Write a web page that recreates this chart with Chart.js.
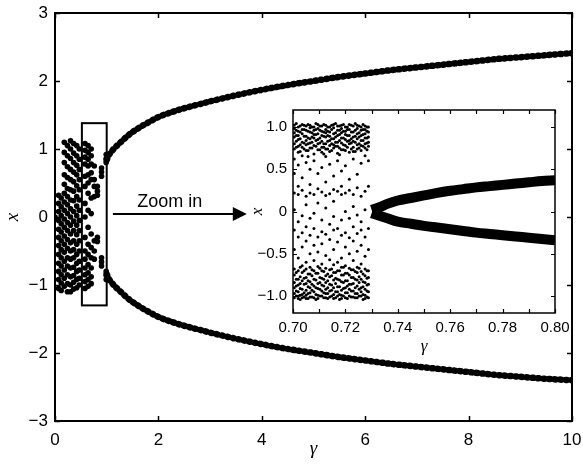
<!DOCTYPE html>
<html lang="en">
<head>
<meta charset="utf-8"/>
<title>Bifurcation diagram</title>
<script src="https://cdn.jsdelivr.net/npm/chart.js"></script>
<style>
  body { margin: 0; background: #fff; }
  #wrap { position: relative; width: 583px; height: 466px; }
  #inset { position: absolute; left: 248px; top: 100px; }
</style>
</head>
<body>
<div id="wrap">
<canvas id="main" width="583" height="466"></canvas>
<canvas id="inset" width="340" height="260"></canvas>
</div>
<script>
  // ---- main panel data ----
  const branchGamma = [1.0, 1.05, 1.1, 1.2, 1.3, 1.4, 1.5, 1.6, 1.8, 2.0, 2.25, 2.5, 2.75, 3.0, 3.5, 4.0, 4.5, 5.0, 5.5, 6.0, 6.5, 7.0, 7.5, 8.0, 8.5, 9.0, 9.5, 10.0];
  const branchUpper = [0.84, 0.92, 0.97, 1.05, 1.12, 1.19, 1.25, 1.30, 1.39, 1.47, 1.54, 1.60, 1.65, 1.70, 1.79, 1.87, 1.94, 2.00, 2.06, 2.11, 2.16, 2.20, 2.24, 2.28, 2.32, 2.35, 2.38, 2.41];
  const branchLower = [-0.84, -0.92, -0.97, -1.05, -1.12, -1.19, -1.25, -1.30, -1.39, -1.47, -1.54, -1.60, -1.65, -1.70, -1.79, -1.87, -1.94, -2.00, -2.06, -2.11, -2.16, -2.20, -2.24, -2.28, -2.32, -2.35, -2.38, -2.40];

  const chaosGamma = [0.0, 0.07, 0.12, 0.18, 0.24, 0.30, 0.36, 0.42, 0.47, 0.58, 0.64, 0.70, 0.76, 0.82, 0.90, 0.99];
  const chaosX = [
    [0.0],
    [0.32, 0.2, 0.08, -0.05, -0.18, -0.3, -0.42, -0.55, -0.68, -0.8, -0.92, -1.05],
    [0.28, 0.15, 0.02, -0.1, -0.22, -0.35, -0.48, -0.6, -0.72, -0.85, -0.97, -1.08],
    [1.1, 0.95, 0.8, 0.62, 0.48, 0.35, 0.22, 0.1, -0.03, -0.15, -0.28, -0.4, -0.52, -0.65, -0.78, -0.9, -1.02],
    [1.05, 0.9, 0.74, 0.58, 0.42, 0.3, 0.18, 0.05, -0.08, -0.2, -0.33, -0.46, -0.6, -0.72, -0.85, -0.98, -1.1],
    [1.12, 1.0, 0.86, 0.7, 0.55, 0.4, 0.25, 0.12, 0.0, -0.12, -0.25, -0.38, -0.5, -0.62, -0.75, -0.88, -1.0, -1.1],
    [1.08, 0.94, 0.8, 0.66, 0.52, 0.38, 0.24, 0.08, -0.06, -0.2, -0.35, -0.48, -0.6, -0.74, -0.86, -0.96, -1.06],
    [1.05, 0.9, 0.76, 0.62, 0.46, 0.3, 0.16, 0.02, -0.12, -0.26, -0.4, -0.55, -0.68, -0.8, -0.92, -1.04],
    [1.0, 0.85, 0.7, 0.55, 0.4, 0.25, 0.1, -0.05, -0.2, -0.35, -0.5, -0.65, -0.78, -0.9, -1.0],
    [1.08, 0.98, 0.88, 0.78, 0.6, 0.45, 0.2, 0.0, -0.3, -0.5, -0.62, -0.75, -0.85, -0.95, -1.05],
    [1.05, 0.95, 0.85, 0.75, 0.62, 0.5, 0.35, 0.1, -0.15, -0.4, -0.55, -0.7, -0.82, -0.92, -1.02],
    [1.0, 0.9, 0.78, 0.65, 0.55, 0.28, 0.05, -0.25, -0.45, -0.6, -0.75, -0.88, -0.98],
    [0.75, 0.55, 0.45, 0.3, -0.35, -0.5, -0.62],
    [0.45, 0.38, 0.32, -0.3, -0.36],
    [0.72, 0.66, 0.6, -0.6, -0.66, -0.72],
    [0.92, 0.86, 0.8, -0.8, -0.86, -0.92]
  ];

  const xTicksMain = [0, 2, 4, 6, 8, 10];
  const yTicksMain = [-3, -2, -1, 0, 1, 2, 3];

  // zoom box and arrow, in data units
  const zoomBox = { g0: 0.52, g1: 1.0, x0: -1.3, x1: 1.38 };
  const zoomArrow = { g0: 1.12, g1: 3.71, x: 0.045, label: 'Zoom in' };

  // ---- inset data ----
  const insetBranchGamma = [0.730, 0.733, 0.736, 0.740, 0.745, 0.750, 0.755, 0.760, 0.765, 0.770, 0.775, 0.780, 0.785, 0.790, 0.795, 0.800];
  const insetUpper = [0.02, 0.05, 0.09, 0.13, 0.16, 0.19, 0.22, 0.245, 0.265, 0.285, 0.30, 0.315, 0.33, 0.345, 0.36, 0.37];
  const insetLower = [-0.02, -0.05, -0.08, -0.12, -0.145, -0.17, -0.19, -0.21, -0.23, -0.25, -0.265, -0.28, -0.295, -0.31, -0.325, -0.34];

  const noiseGamma = [0.7005, 0.7020, 0.7035, 0.7050, 0.7065, 0.7080, 0.7095, 0.7110, 0.7125, 0.7140, 0.7155, 0.7170, 0.7185, 0.7200, 0.7215, 0.7230, 0.7245, 0.7260, 0.7275, 0.7288];
  const noiseX = [
    [1.02, 0.98, 0.93, 0.88, 0.8, 0.74, 0.62, 0.45, 0.22, 0.02, -0.22, -0.45, -0.68, -0.75, -0.84, -0.9, -0.97, -1.02],
    [1.0, 0.95, 0.9, 0.85, 0.77, 0.7, 0.55, 0.3, 0.2, -0.12, -0.3, -0.55, -0.7, -0.8, -0.87, -0.95, -1.0, -1.03],
    [1.03, 0.97, 0.92, 0.82, 0.76, 0.66, 0.4, 0.25, -0.05, -0.25, -0.42, -0.64, -0.72, -0.82, -0.92, -0.98, -1.02],
    [1.01, 0.96, 0.89, 0.84, 0.79, 0.72, 0.58, 0.18, 0.08, -0.18, -0.35, -0.6, -0.68, -0.78, -0.85, -0.93, -0.99, -1.03],
    [1.02, 0.99, 0.94, 0.86, 0.81, 0.75, 0.5, 0.32, 0.22, -0.08, -0.28, -0.5, -0.66, -0.74, -0.83, -0.9, -0.96, -1.01],
    [1.0, 0.96, 0.91, 0.87, 0.78, 0.68, 0.6, 0.2, -0.02, -0.2, -0.4, -0.58, -0.7, -0.8, -0.88, -0.95, -1.02],
    [1.03, 0.98, 0.92, 0.85, 0.8, 0.73, 0.45, 0.27, 0.1, -0.3, -0.48, -0.65, -0.73, -0.85, -0.91, -0.99, -1.03],
    [1.01, 0.95, 0.9, 0.83, 0.76, 0.7, 0.52, 0.23, -0.1, -0.24, -0.38, -0.62, -0.7, -0.79, -0.87, -0.94, -1.0],
    [1.02, 0.97, 0.93, 0.88, 0.8, 0.74, 0.65, 0.35, 0.19, 0.04, -0.27, -0.52, -0.67, -0.76, -0.84, -0.92, -0.97, -1.02],
    [1.0, 0.94, 0.89, 0.84, 0.78, 0.71, 0.56, 0.21, -0.15, -0.33, -0.57, -0.69, -0.77, -0.86, -0.94, -1.01],
    [1.03, 0.99, 0.92, 0.86, 0.79, 0.75, 0.42, 0.26, 0.12, -0.06, -0.22, -0.45, -0.63, -0.72, -0.81, -0.9, -0.98, -1.03],
    [1.01, 0.96, 0.9, 0.82, 0.77, 0.69, 0.6, 0.24, -0.2, -0.36, -0.6, -0.7, -0.8, -0.89, -0.95, -1.0],
    [1.02, 0.98, 0.93, 0.87, 0.81, 0.73, 0.48, 0.3, 0.2, -0.1, -0.28, -0.55, -0.66, -0.75, -0.83, -0.93, -0.99, -1.03],
    [1.0, 0.95, 0.91, 0.85, 0.78, 0.72, 0.54, 0.22, 0.0, -0.25, -0.42, -0.64, -0.73, -0.82, -0.9, -0.96, -1.02],
    [1.03, 0.97, 0.9, 0.84, 0.8, 0.7, 0.38, 0.25, -0.08, -0.31, -0.5, -0.67, -0.75, -0.86, -0.92, -1.0],
    [1.01, 0.94, 0.88, 0.83, 0.76, 0.71, 0.62, 0.2, 0.06, -0.18, -0.35, -0.58, -0.69, -0.78, -0.85, -0.94, -1.01],
    [1.02, 0.98, 0.92, 0.86, 0.79, 0.74, 0.44, 0.28, -0.04, -0.26, -0.47, -0.66, -0.72, -0.81, -0.88, -0.97, -1.02],
    [1.0, 0.96, 0.9, 0.84, 0.78, 0.72, 0.57, 0.18, -0.12, -0.22, -0.4, -0.62, -0.71, -0.8, -0.9, -0.95, -1.0],
    [1.01, 0.97, 0.92, 0.87, 0.8, 0.75, 0.66, 0.24, 0.02, -0.3, -0.53, -0.68, -0.76, -0.84, -0.92, -0.99, -1.03],
    [1.0, 0.94, 0.88, 0.82, 0.77, 0.6, 0.3, -0.2, -0.45, -0.7, -0.78, -0.86, -0.95, -1.02]
  ];
  // extra samples that fill the two dense bands
  const bandGamma = [0.70125, 0.70275, 0.70425, 0.70575, 0.70725, 0.70875, 0.71025, 0.71175, 0.71325, 0.71475, 0.71625, 0.71775, 0.71925, 0.72075, 0.72225, 0.72375, 0.72525, 0.72675, 0.72825];
  const bandX = [
    [1.04, 0.96, 0.9, 0.83, 0.76, -0.72, -0.8, -0.88, -0.94, -1.0],
    [1.01, 0.94, 0.86, 0.79, 0.71, -0.66, -0.77, -0.85, -0.91, -0.99, -1.04],
    [1.02, 0.97, 0.89, 0.81, 0.74, -0.7, -0.79, -0.86, -0.96, -1.01],
    [1.03, 0.95, 0.87, 0.8, 0.72, 0.65, -0.74, -0.82, -0.89, -0.97, -1.03],
    [1.0, 0.93, 0.88, 0.82, 0.75, -0.69, -0.76, -0.86, -0.93, -1.01],
    [1.04, 0.97, 0.91, 0.84, 0.77, -0.73, -0.81, -0.9, -0.98, -1.04],
    [1.01, 0.96, 0.87, 0.81, 0.73, -0.67, -0.78, -0.84, -0.92, -1.0],
    [1.03, 0.94, 0.89, 0.8, 0.76, 0.68, -0.71, -0.8, -0.88, -0.96, -1.02],
    [1.0, 0.95, 0.9, 0.83, 0.74, -0.74, -0.82, -0.9, -0.97, -1.03],
    [1.02, 0.97, 0.86, 0.8, 0.72, -0.68, -0.76, -0.87, -0.93, -1.0],
    [1.04, 0.93, 0.88, 0.82, 0.77, -0.72, -0.79, -0.85, -0.95, -1.02],
    [1.01, 0.96, 0.91, 0.84, 0.75, 0.67, -0.7, -0.81, -0.89, -0.98, -1.04],
    [1.03, 0.95, 0.87, 0.79, 0.73, -0.66, -0.75, -0.84, -0.91, -1.0],
    [1.0, 0.97, 0.9, 0.83, 0.76, -0.73, -0.82, -0.88, -0.96, -1.03],
    [1.02, 0.94, 0.86, 0.81, 0.74, -0.69, -0.78, -0.86, -0.94, -1.01],
    [1.04, 0.96, 0.89, 0.82, 0.71, -0.71, -0.8, -0.9, -0.97, -1.02],
    [1.01, 0.93, 0.88, 0.8, 0.75, -0.67, -0.77, -0.84, -0.92, -1.0],
    [1.03, 0.97, 0.91, 0.84, 0.77, -0.74, -0.83, -0.89, -0.98, -1.04],
    [1.0, 0.95, 0.87, 0.81, 0.73, -0.7, -0.79, -0.87, -0.94, -1.01]
  ];

  const insetTickMarksX = [0.70, 0.71, 0.72, 0.73, 0.74, 0.75, 0.76, 0.77, 0.78, 0.79, 0.80];
  const insetTicksY = [-1, -0.5, 0, 0.5, 1];

  const sansFont = "'Liberation Sans', Arial, sans-serif";
  const serifFont = "'Liberation Serif', 'Times New Roman', serif";

  function columnsToPoints(gs, cols) {
    const pts = [];
    gs.forEach((g, i) => cols[i].forEach(v => pts.push({ x: g, y: v })));
    return pts;
  }
  function pairs(gs, vs) {
    return gs.map((g, i) => ({ x: g, y: vs[i] }));
  }
  const minus = s => String(s).replace('-', '\u2212');
  // keep label overhang from shrinking the plot area
  const noPadX = s => { s.paddingLeft = 0; s.paddingRight = 0; };
  const noPadY = s => { s.paddingTop = 0; s.paddingBottom = 0; };

  // frame, inward ticks and axis titles, shared by both panels
  const framePlugin = {
    id: 'frame',
    afterDatasetsDraw(chart, args, o) {
      const { ctx, chartArea: a, scales: { x, y } } = chart;
      ctx.save();
      ctx.strokeStyle = '#000';
      ctx.lineWidth = o.tickWidth;
      ctx.beginPath();
      o.xMarks.forEach(v => {
        const px = Math.round(x.getPixelForValue(v)) + 0.5;
        ctx.moveTo(px, a.bottom); ctx.lineTo(px, a.bottom - o.tickLen);
        ctx.moveTo(px, a.top); ctx.lineTo(px, a.top + o.tickLen);
      });
      o.yMarks.forEach(v => {
        const py = Math.round(y.getPixelForValue(v)) + 0.5;
        ctx.moveTo(a.left, py); ctx.lineTo(a.left + o.tickLen, py);
        ctx.moveTo(a.right, py); ctx.lineTo(a.right - o.tickLen, py);
      });
      ctx.stroke();
      ctx.lineWidth = o.frameWidth;
      ctx.strokeRect(a.left, a.top, a.right - a.left, a.bottom - a.top);

      ctx.fillStyle = '#000';
      ctx.font = 'italic ' + o.titleSize + 'px ' + serifFont;
      ctx.textAlign = 'center';
      ctx.textBaseline = 'middle';
      ctx.fillText(o.xTitle, (a.left + a.right) / 2, a.bottom + o.xTitleOffset);
      ctx.translate(a.left - o.yTitleOffset, (a.top + a.bottom) / 2);
      ctx.rotate(-Math.PI / 2);
      ctx.fillText(o.yTitle, 0, 0);
      ctx.restore();
    }
  };

  const zoomPlugin = {
    id: 'zoomMark',
    afterDatasetsDraw(chart) {
      const { ctx, scales: { x, y } } = chart;
      ctx.save();
      ctx.strokeStyle = '#000';
      ctx.fillStyle = '#000';
      ctx.lineWidth = 2;
      const bx0 = x.getPixelForValue(zoomBox.g0), bx1 = x.getPixelForValue(zoomBox.g1);
      const by0 = y.getPixelForValue(zoomBox.x1), by1 = y.getPixelForValue(zoomBox.x0);
      ctx.strokeRect(bx0, by0, bx1 - bx0, by1 - by0);

      const ax0 = x.getPixelForValue(zoomArrow.g0), ax1 = x.getPixelForValue(zoomArrow.g1);
      const ay = y.getPixelForValue(zoomArrow.x);
      ctx.beginPath();
      ctx.moveTo(ax0, ay); ctx.lineTo(ax1 - 12, ay);
      ctx.stroke();
      ctx.beginPath();
      ctx.moveTo(ax1, ay); ctx.lineTo(ax1 - 14, ay - 7); ctx.lineTo(ax1 - 14, ay + 7);
      ctx.closePath();
      ctx.fill();

      ctx.font = '18px ' + sansFont;
      ctx.textAlign = 'center';
      ctx.textBaseline = 'alphabetic';
      ctx.fillText(zoomArrow.label, (ax0 + ax1) / 2 - 10, ay - 7);
      ctx.restore();
    }
  };

  Chart.defaults.color = '#000';
  Chart.defaults.animation = false;

  const dotted = { showLine: true, pointRadius: 0, borderColor: '#000', borderWidth: 6.5,
    borderDash: [1, 4.6], borderCapStyle: 'round', cubicInterpolationMode: 'monotone' };

  new Chart(document.getElementById('main'), {
    type: 'scatter',
    data: {
      datasets: [
        Object.assign({ data: pairs(branchGamma, branchUpper) }, dotted),
        Object.assign({ data: pairs(branchGamma, branchLower) }, dotted),
        {
          data: columnsToPoints(chaosGamma, chaosX),
          pointRadius: 2.8, pointBackgroundColor: '#000', pointBorderWidth: 0
        }
      ]
    },
    options: {
      responsive: false,
      devicePixelRatio: 1,
      layout: { padding: { top: 13, right: 11, left: 0, bottom: 0 } },
      plugins: {
        legend: { display: false },
        tooltip: { enabled: false },
        frame: {
          xMarks: xTicksMain, yMarks: yTicksMain, tickLen: 5, tickWidth: 1.5, frameWidth: 2,
          xTitle: '\u03b3', yTitle: 'x', titleSize: 19, xTitleOffset: 28, yTitleOffset: 42
        }
      },
      scales: {
        x: {
          type: 'linear', min: 0, max: 10,
          grid: { display: false, drawTicks: false }, border: { display: false },
          ticks: { stepSize: 2, padding: 9, font: { family: sansFont, size: 17 } },
          afterFit: s => { s.height = 45; noPadX(s); }
        },
        y: {
          type: 'linear', min: -3, max: 3,
          grid: { display: false, drawTicks: false }, border: { display: false },
          ticks: { stepSize: 1, padding: 7, font: { family: sansFont, size: 17 }, callback: v => minus(v) },
          afterFit: s => { s.width = 55; noPadY(s); }
        }
      }
    },
    plugins: [framePlugin, zoomPlugin]
  });

  new Chart(document.getElementById('inset'), {
    type: 'scatter',
    data: {
      datasets: [
        {
          data: pairs(insetBranchGamma, insetUpper),
          showLine: true, pointRadius: 0, borderColor: '#000', borderWidth: 10,
          cubicInterpolationMode: 'monotone'
        },
        {
          data: pairs(insetBranchGamma, insetLower),
          showLine: true, pointRadius: 0, borderColor: '#000', borderWidth: 10,
          cubicInterpolationMode: 'monotone'
        },
        {
          data: columnsToPoints(noiseGamma, noiseX).concat(columnsToPoints(bandGamma, bandX)),
          pointRadius: 1.5, pointBackgroundColor: '#000', pointBorderWidth: 0
        }
      ]
    },
    options: {
      responsive: false,
      devicePixelRatio: 1,
      layout: { padding: { top: 10, right: 33, left: 0, bottom: 0 } },
      plugins: {
        legend: { display: false },
        tooltip: { enabled: false },
        frame: {
          xMarks: insetTickMarksX, yMarks: insetTicksY, tickLen: 4, tickWidth: 1.2, frameWidth: 1.5,
          xTitle: '\u03b3', yTitle: 'x', titleSize: 17, xTitleOffset: 34, yTitleOffset: 35
        }
      },
      scales: {
        x: {
          type: 'linear', min: 0.70, max: 0.80,
          grid: { display: false, drawTicks: false }, border: { display: false },
          ticks: { stepSize: 0.02, padding: 6, font: { family: sansFont, size: 15 }, callback: v => v.toFixed(2) },
          afterFit: s => { s.height = 47; noPadX(s); }
        },
        y: {
          type: 'linear', min: -1.2, max: 1.2,
          grid: { display: false, drawTicks: false }, border: { display: false },
          ticks: {
            stepSize: 0.5, includeBounds: false, padding: 6, font: { family: sansFont, size: 15 },
            callback: v => minus(v === 0 ? '0' : v.toFixed(1))
          },
          afterFit: s => { s.width = 45; noPadY(s); }
        }
      }
    },
    plugins: [framePlugin]
  });
</script>
</body>
</html>
